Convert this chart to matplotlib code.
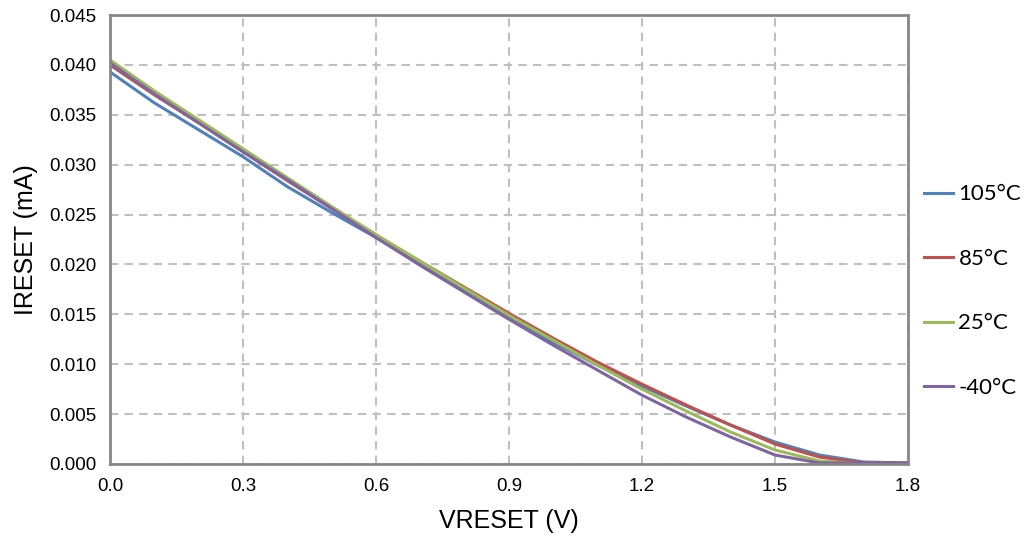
import numpy as np
import matplotlib.pyplot as plt

v = [0.0, 0.1, 0.2, 0.3, 0.4, 0.5, 0.6, 0.7, 0.8, 0.9, 1.0, 1.1, 1.2, 1.3, 1.4, 1.5, 1.6, 1.7, 1.8]
i_105 = [0.0393, 0.0362, 0.0335, 0.0308, 0.0278, 0.0252, 0.0227, 0.0200, 0.0173, 0.0147,
         0.0122, 0.0099, 0.0078, 0.0058, 0.0039, 0.0022, 0.0009, 0.0002, 0.0001]
i_85 = [0.0400, 0.0370, 0.0342, 0.0313, 0.0284, 0.0256, 0.0229, 0.0203, 0.0177, 0.0151,
        0.0126, 0.0102, 0.0080, 0.0059, 0.0039, 0.0020, 0.0007, 0.0001, 0.0001]
i_25 = [0.0405, 0.0374, 0.0345, 0.0316, 0.0287, 0.0258, 0.0230, 0.0203, 0.0176, 0.0149,
        0.0124, 0.0099, 0.0075, 0.0053, 0.0032, 0.0014, 0.0003, 0.0000, 0.0000]
i_m40 = [0.0402, 0.0371, 0.0342, 0.0313, 0.0285, 0.0256, 0.0227, 0.0199, 0.0172, 0.0145,
         0.0119, 0.0094, 0.0069, 0.0047, 0.0027, 0.0009, 0.0001, 0.0001, 0.0001]
labels = ['105°C', '85°C', '25°C', '-40°C']
colors = ['#4F81BD', '#C0504D', '#9BBB59', '#8064A2']

xticks = [0.0, 0.3, 0.6, 0.9, 1.2, 1.5, 1.8]
yticks = np.arange(0, 0.0451, 0.005)

plt.rcParams['font.family'] = ['Liberation Sans', 'DejaVu Sans']

fig = plt.figure(figsize=(10.24, 5.58), dpi=100)
ax = fig.add_axes([0.1074, 0.1685, 0.7793, 0.8045])

for ys, lab, c in zip([i_105, i_85, i_25, i_m40], labels, colors):
    ax.plot(v, ys, color=c, lw=2.2, label=lab)

ax.set_xlim(0, 1.8)
ax.set_ylim(0, 0.045)
ax.set_xticks(xticks)
ax.set_xticklabels(['%.1f' % t for t in xticks])
ax.set_yticks(yticks)
ax.set_yticklabels(['%.3f' % t for t in yticks])
ax.tick_params(labelsize=13.5, length=0, pad=10)
ax.grid(True, color='#BFBFBF', ls=(0, (4, 3)), lw=1.5)
for s in ax.spines.values():
    s.set_color('#878787')
    s.set_linewidth(2)

ax.set_xlabel('VRESET (V)', fontsize=18, labelpad=10)
ax.set_ylabel('IRESET (mA)', fontsize=18, labelpad=8)

leg = ax.legend(loc='center left', bbox_to_anchor=(0.995, 0.385), frameon=False,
                handlelength=1.3, handletextpad=0.25, labelspacing=2.0,
                prop={'family': 'Lato', 'size': 16})

fig.savefig('out.png', dpi=100)
